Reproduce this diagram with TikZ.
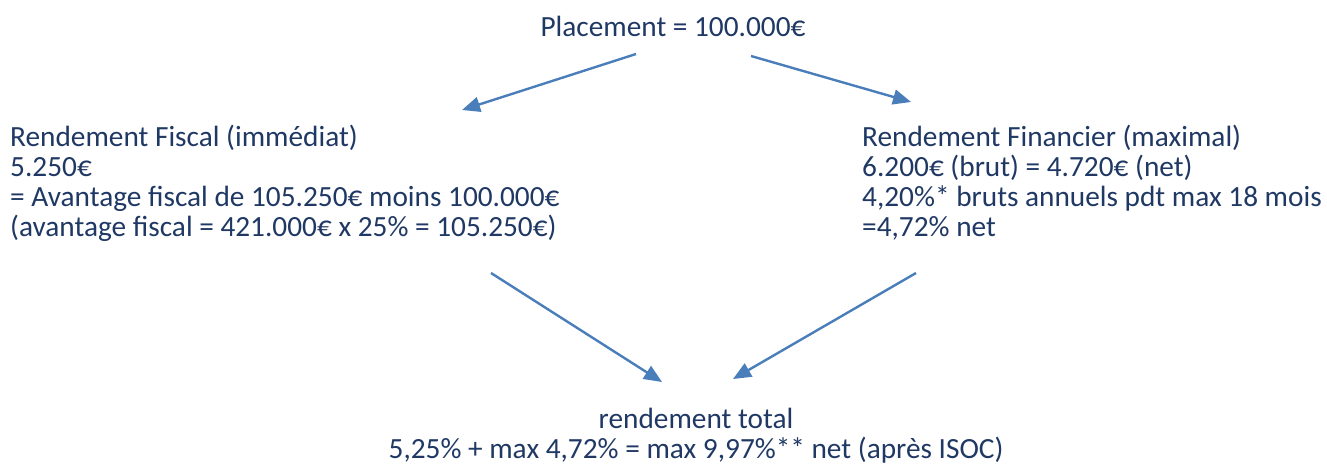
\documentclass[tikz,border=0pt]{standalone}
\usepackage{fontspec}
\setmainfont{Carlito}
\usetikzlibrary{arrows.meta}
\definecolor{txtblue}{HTML}{1F3864}
\definecolor{arrblue}{HTML}{4A7EBB}
\begin{document}
\begin{tikzpicture}[x=1pt,y=-1pt,
  lbl/.style={inner sep=0pt, text=txtblue, font=\fontsize{29.3}{30}\selectfont},
  flow/.style={draw=arrblue, line width=2.4pt, -{Triangle[length=18pt,width=15pt]}}]
  \useasboundingbox (0,0) rectangle (1327,469);
  % text blocks (placed by the baseline of their last line)
  \node[lbl, anchor=base] (top) at (673,36) {Placement = 100.000€};
  \node[lbl, anchor=base west, align=left] (fisc) at (10,236)
    {Rendement Fiscal (immédiat)\\5.250€\\= Avantage fiscal de 105.250€ moins 100.000€\\(avantage fiscal = 421.000€ x 25\% = 105.250€)};
  \node[lbl, anchor=base west, align=left] (fin) at (862,236)
    {Rendement Financier (maximal)\\6.200€ (brut) = 4.720€ (net)\\4,20\%* bruts annuels pdt max 18 mois\\=4,72\% net};
  \node[lbl, anchor=base, align=center] (tot) at (696,458)
    {rendement total\\5,25\% + max 4,72\% = max 9,97\%** net (après ISOC)};
  % connector end points
  \coordinate (a1) at (636,54);  \coordinate (b1) at (462,110);
  \coordinate (a2) at (751,56);  \coordinate (b2) at (911,102);
  \coordinate (a3) at (491,273); \coordinate (b3) at (662,382);
  \coordinate (a4) at (916,273); \coordinate (b4) at (733,379);
  \draw[flow] (a1) -- (b1);
  \draw[flow] (a2) -- (b2);
  \draw[flow] (a3) -- (b3);
  \draw[flow] (a4) -- (b4);
\end{tikzpicture}
\end{document}
